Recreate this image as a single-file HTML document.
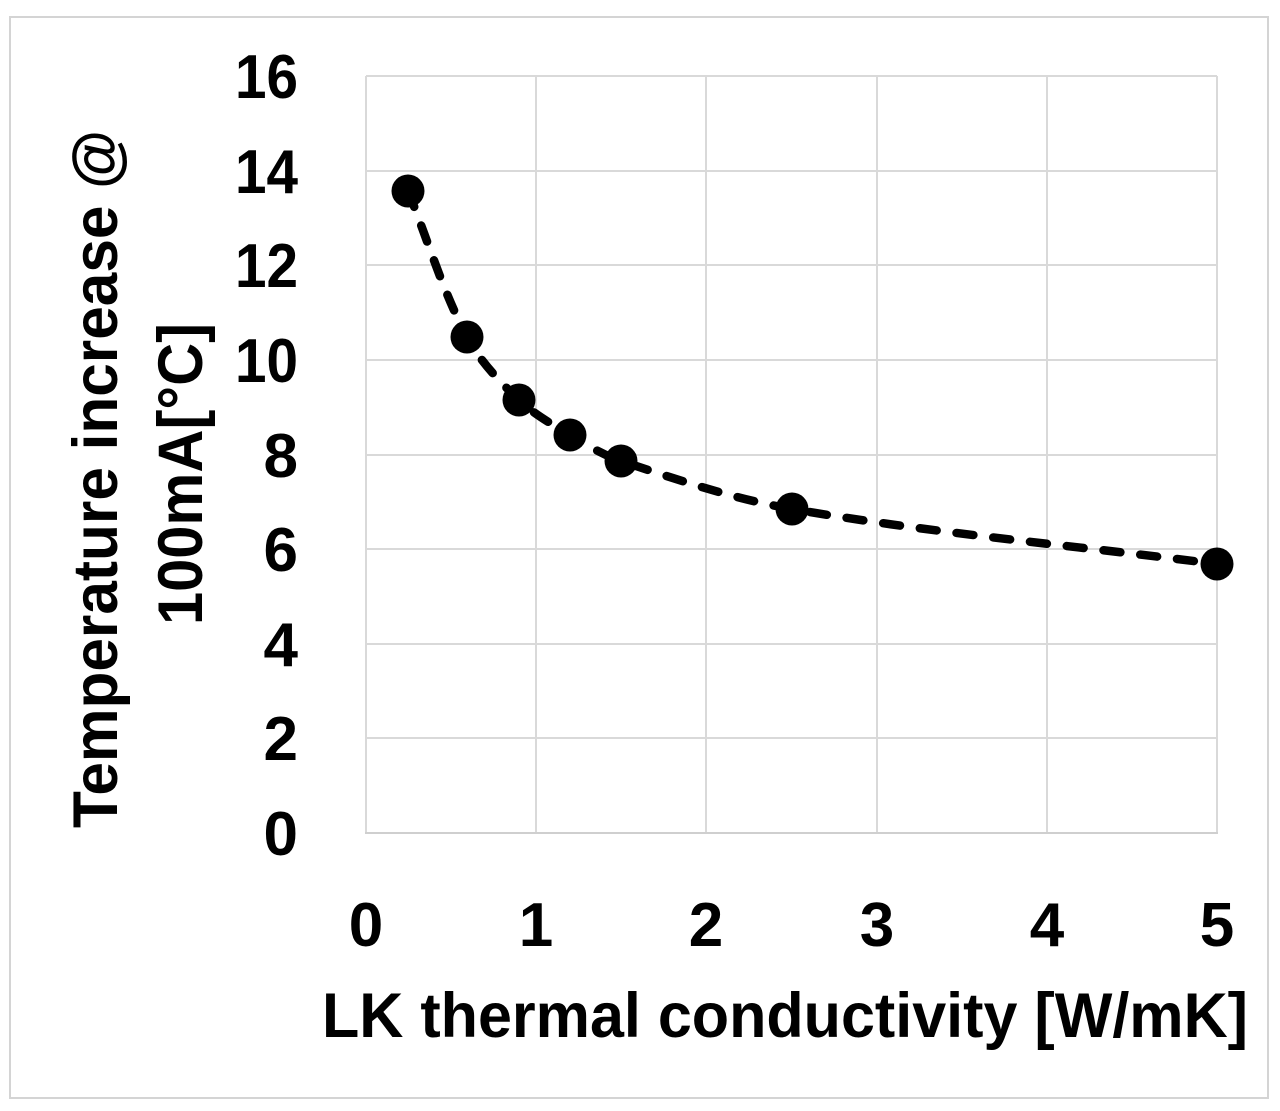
<!DOCTYPE html>
<html>
<head>
<meta charset="utf-8">
<style>
  html, body { margin: 0; padding: 0; background: #ffffff; }
  body { width: 1280px; height: 1111px; overflow: hidden; }
  svg { display: block; }
  text { font-family: "Liberation Sans", sans-serif; font-weight: bold; fill: #000; }
</style>
</head>
<body>
<svg width="1280" height="1111" viewBox="0 0 1280 1111" xmlns="http://www.w3.org/2000/svg">
  <rect x="0" y="0" width="1280" height="1111" fill="#ffffff"/>
  <!-- outer chart border -->
  <rect x="10" y="17" width="1258" height="1081" fill="none" stroke="#d4d4d4" stroke-width="2"/>

  <!-- gridlines -->
  <g stroke="#d9d9d9" stroke-width="2" fill="none">
    <line x1="366" y1="76" x2="1217" y2="76"/>
    <line x1="366" y1="171" x2="1217" y2="171"/>
    <line x1="366" y1="265" x2="1217" y2="265"/>
    <line x1="366" y1="360" x2="1217" y2="360"/>
    <line x1="366" y1="455" x2="1217" y2="455"/>
    <line x1="366" y1="549" x2="1217" y2="549"/>
    <line x1="366" y1="644" x2="1217" y2="644"/>
    <line x1="366" y1="738" x2="1217" y2="738"/>
    <line x1="366" y1="76" x2="366" y2="833"/>
    <line x1="536" y1="76" x2="536" y2="833"/>
    <line x1="706" y1="76" x2="706" y2="833"/>
    <line x1="877" y1="76" x2="877" y2="833"/>
    <line x1="1047" y1="76" x2="1047" y2="833"/>
    <line x1="1217" y1="76" x2="1217" y2="833"/>
  </g>
  <line x1="365" y1="833" x2="1218" y2="833" stroke="#cfcfcf" stroke-width="2"/>

  <!-- y tick labels -->
  <g font-size="62" text-anchor="end">
    <text x="298" y="98" textLength="63" lengthAdjust="spacingAndGlyphs">16</text>
    <text x="298" y="193" textLength="63" lengthAdjust="spacingAndGlyphs">14</text>
    <text x="298" y="287" textLength="63" lengthAdjust="spacingAndGlyphs">12</text>
    <text x="298" y="382" textLength="63" lengthAdjust="spacingAndGlyphs">10</text>
    <text x="298" y="477">8</text>
    <text x="298" y="571">6</text>
    <text x="298" y="666">4</text>
    <text x="298" y="760">2</text>
    <text x="298" y="855">0</text>
  </g>

  <!-- x tick labels -->
  <g font-size="62" text-anchor="middle">
    <text x="366" y="946">0</text>
    <text x="536" y="946">1</text>
    <text x="706" y="946">2</text>
    <text x="877" y="946">3</text>
    <text x="1047" y="946">4</text>
    <text x="1217" y="946">5</text>
  </g>

  <!-- x axis title -->
  <text x="322" y="1037" font-size="63" textLength="926" lengthAdjust="spacingAndGlyphs">LK thermal conductivity [W/mK]</text>

  <!-- y axis title (rotated) -->
  <g font-size="63" text-anchor="middle">
    <text transform="translate(117,479) rotate(-90)" x="0" y="0" textLength="698" lengthAdjust="spacingAndGlyphs">Temperature increase @</text>
    <text transform="translate(202,474) rotate(-90)" x="0" y="0" textLength="302" lengthAdjust="spacingAndGlyphs">100mA[°C]</text>
  </g>

  <!-- smoothed dashed series line -->
  <path d="M408,191 C427.7,239.7 442.4,290.6 467,337 C479.8,361 499.3,381.3 519,400 C533.9,414.2 552.3,424.4 570,435 C586.4,444.8 602.9,455 621,461 C677.2,479.7 733.7,498.9 792,509 C932.7,533.3 1075.3,545.7 1217,564"
        fill="none" stroke="#000" stroke-width="8.5" stroke-linecap="round" stroke-linejoin="round" stroke-dasharray="17 20"/>

  <!-- markers -->
  <g fill="#000">
    <circle cx="408" cy="191" r="16.5"/>
    <circle cx="467" cy="337" r="16.5"/>
    <circle cx="519" cy="400" r="16.5"/>
    <circle cx="570" cy="435" r="16.5"/>
    <circle cx="621" cy="461" r="16.5"/>
    <circle cx="792" cy="509" r="16.5"/>
    <circle cx="1217" cy="564" r="16.5"/>
  </g>
</svg>
</body>
</html>
